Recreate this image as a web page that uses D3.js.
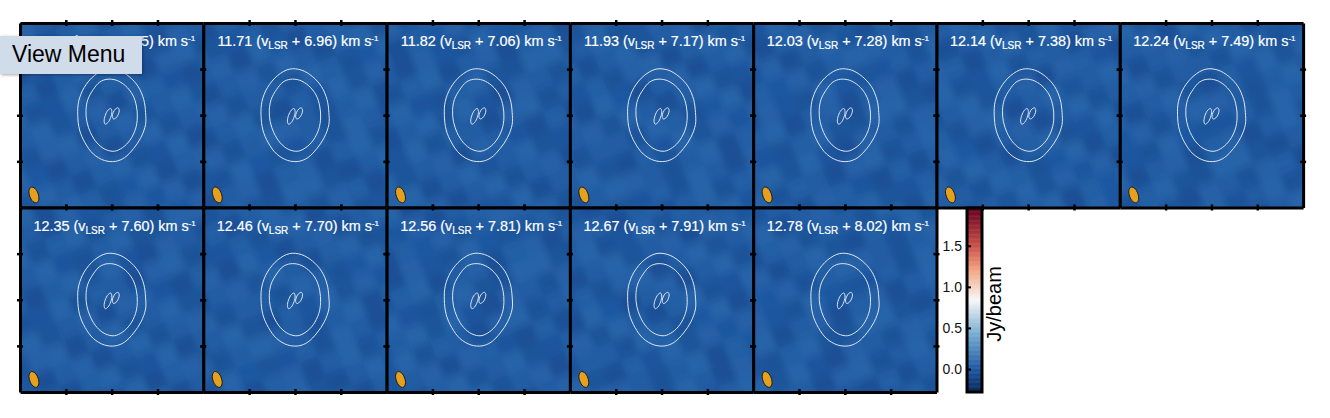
<!DOCTYPE html>
<html>
<head>
<meta charset="utf-8">
<script src="https://cdn.jsdelivr.net/npm/d3@7"></script>
<style>
html, body { margin: 0; padding: 0; background: #fff; }
svg { display: block; font-family: "Liberation Sans", Arial, sans-serif; }
#viewMenu {
	position: absolute; left: 0; top: 36px; width: 142px; height: 38px;
	background: #d1dcea; color: #000; box-shadow: 1px 1px 3px rgba(0,0,0,0.35);
	font: 23px "Liberation Sans", Arial, sans-serif; line-height: 37px; text-indent: 12px;
}
</style>
</head>
<body>
<div id="viewMenu">View Menu</div>
<svg id="chart" width="1330" height="418"></svg>
<script>
// channel velocities and the offset from the systemic velocity (km/s)
var velocities = ["11.61", "11.71", "11.82", "11.93", "12.03", "12.14", "12.24", "12.35", "12.46", "12.56", "12.67", "12.78"];
var offsets = ["6.85", "6.96", "7.06", "7.17", "7.28", "7.38", "7.49", "7.60", "7.70", "7.81", "7.91", "8.02"];

// contours, in panel offset units (-1 to 1)
var outerContour = [[-0.06, 0.50], [0.07, 0.49], [0.19, 0.42], [0.29, 0.31], [0.35, 0.17], [0.37, 0.03], [0.37, -0.10], [0.32, -0.24], [0.24, -0.36], [0.14, -0.46], [0.04, -0.50], [-0.08, -0.49], [-0.20, -0.42], [-0.29, -0.30], [-0.35, -0.16], [-0.37, 0.00], [-0.36, 0.15], [-0.30, 0.30], [-0.19, 0.43]];
var middleContour = [[-0.05, 0.39], [0.05, 0.38], [0.15, 0.32], [0.23, 0.22], [0.27, 0.10], [0.28, -0.03], [0.26, -0.15], [0.20, -0.27], [0.12, -0.35], [0.03, -0.39], [-0.07, -0.37], [-0.16, -0.30], [-0.23, -0.19], [-0.27, -0.07], [-0.28, 0.05], [-0.26, 0.17], [-0.20, 0.28], [-0.13, 0.36]];
var innerLeft = [[-0.01, 0.073], [0.002, 0.041], [-0.01, -0.022], [-0.04, -0.079], [-0.07, -0.097], [-0.082, -0.065], [-0.07, -0.002], [-0.04, 0.055]];
var innerRight = [[0.07, 0.08], [0.083, 0.055], [0.073, 0.01], [0.047, -0.029], [0.02, -0.04], [0.007, -0.015], [0.017, 0.03], [0.043, 0.069]];
var beamShape = [[-0.878, -0.779], [-0.837, -0.793], [-0.803, -0.849], [-0.795, -0.913], [-0.818, -0.949], [-0.859, -0.935], [-0.893, -0.879], [-0.901, -0.815]];

// faint background emission in Jy/beam, a coarse hand read of the texture
var noiseGrid = [
	[-0.02, 0.03, -0.04, 0.05, 0.01, -0.05, 0.04, -0.01, -0.04, 0.05, 0.00, -0.03],
	[0.04, -0.05, 0.02, 0.05, -0.04, 0.03, 0.05, -0.05, 0.02, 0.04, -0.05, 0.03],
	[0.05, -0.03, -0.05, 0.01, 0.05, -0.02, -0.04, 0.03, 0.05, -0.03, -0.04, 0.05],
	[-0.04, 0.04, 0.03, -0.05, 0.02, 0.05, -0.03, 0.05, -0.02, -0.05, 0.04, 0.01],
	[0.01, 0.05, -0.04, -0.02, 0.05, -0.04, 0.03, 0.01, -0.05, 0.04, 0.05, -0.04],
	[-0.05, 0.02, 0.05, -0.03, 0.01, 0.04, -0.05, 0.04, 0.03, -0.02, -0.05, 0.03],
	[0.03, -0.04, 0.04, 0.05, -0.05, 0.02, 0.05, -0.03, 0.01, 0.05, -0.03, -0.02],
	[0.05, 0.00, -0.05, 0.02, 0.04, -0.05, 0.01, 0.05, -0.04, 0.02, 0.04, -0.05],
	[-0.03, 0.05, 0.01, -0.05, 0.03, 0.05, -0.04, -0.02, 0.05, -0.05, 0.01, 0.04],
	[0.02, -0.04, 0.05, 0.03, -0.04, 0.00, 0.05, -0.05, 0.03, 0.04, -0.04, 0.02],
	[-0.05, 0.03, -0.02, 0.05, -0.03, 0.04, -0.01, 0.04, -0.05, 0.01, 0.05, -0.03],
	[0.04, 0.01, -0.04, 0.02, 0.05, -0.05, 0.03, 0.00, 0.04, -0.04, 0.02, 0.05]
];

var colorbarTicks = [0, 0.5, 1, 1.5];
var colorbarDomain = [-0.28, 1.96];
var colorStopValues = [-0.28, 0, 0.42, 0.84, 1.2, 1.5, 1.96];
var colorStops = ["#07275a", "#1e59a2", "#76abd2", "#f7f7f7", "#f4a582", "#c9504a", "#67001f"];
var panelTicks = [-0.5, 0, 0.5];

// layout of the grid of panels
var svg = d3.select("#chart");
var columns = 7;
var left = 20, top0 = 23, panelSize = 183.3, panelHeight = 184.5;

var x = d3.scaleLinear().domain([-1, 1]).range([0, panelSize]);
var y = d3.scaleLinear().domain([-1, 1]).range([panelHeight, 0]);

// same colour ramp for the channel maps and the colour bar
var color = d3.scaleLinear().domain(colorStopValues).range(colorStops);

var noiseX = d3.scaleBand().domain(d3.range(12)).range([-30, panelSize + 30]);
var noiseY = d3.scaleBand().domain(d3.range(12)).range([-30, panelHeight + 30]);

var line = d3.line()
	.x(function(d) { return x(d[0]); })
	.y(function(d) { return y(d[1]); })
	.curve(d3.curveCatmullRomClosed);

var defs = svg.append("defs");
defs.append("filter").attr("id", "smear")
	.attr("x", "-10%").attr("y", "-10%").attr("width", "120%").attr("height", "120%")
	.append("feGaussianBlur").attr("stdDeviation", "3 5");
defs.append("clipPath").attr("id", "panelClip")
	.append("rect").attr("width", panelSize).attr("height", panelHeight);

var panels = svg.selectAll(".panel")
	.data(velocities)
	.enter()
	.append("g")
	.attr("class", "panel")
	.attr("transform", function(d, i) {
		return "translate(" + (left + (i % columns) * panelSize) + "," + (top0 + Math.floor(i / columns) * panelHeight) + ")";
	});

panels.each(function(d, i) {
	var panel = d3.select(this);
	var clipped = panel.append("g").attr("clip-path", "url(#panelClip)");

	clipped.append("rect")
		.attr("width", panelSize)
		.attr("height", panelHeight)
		.attr("fill", color(0));

	// shift the noise tile per channel so the panels don't look identical, tilted like the beam
	var noise = clipped.append("g")
		.attr("filter", "url(#smear)")
		.attr("transform", "rotate(-22 " + panelSize / 2 + " " + panelHeight / 2 + ")");
	noiseGrid.forEach(function(row, r) {
		row.forEach(function(value, c) {
			noise.append("rect")
				.attr("x", noiseX((c + i * 5) % 12))
				.attr("y", noiseY((r + i * 7) % 12))
				.attr("width", noiseX.bandwidth() + 1)
				.attr("height", noiseY.bandwidth() + 1)
				.attr("fill", color(value));
		});
	});

	[outerContour, middleContour, innerLeft, innerRight].forEach(function(contour) {
		clipped.append("path")
			.attr("d", line(contour))
			.attr("fill", "none")
			.attr("stroke", "#dfe8f2")
			.attr("stroke-width", 1);
	});

	clipped.append("path")
		.attr("d", line(beamShape))
		.attr("fill", "#e5a01e")
		.attr("stroke", "#1a1a1a")
		.attr("stroke-width", 1);

	// channel label
	var label = panel.append("text")
		.attr("x", panelSize / 2 + 3)
		.attr("y", 23)
		.attr("text-anchor", "middle")
		.attr("fill", "#fff")
		.attr("stroke", "#fff")
		.attr("stroke-width", 0.2)
		.attr("font-size", 14.4);
	label.append("tspan").text(d + " (v");
	label.append("tspan").attr("font-size", 10).attr("dy", 3).text("LSR");
	label.append("tspan").attr("dy", -3).text(" + " + offsets[i] + ") km s");
	label.append("tspan").attr("font-size", 8).attr("dy", -5).text("-1");

	// frame and ticks on all four sides
	var axes = [
		{axis: d3.axisTop(x), tr: "translate(0,0)"},
		{axis: d3.axisBottom(x), tr: "translate(0," + panelHeight + ")"},
		{axis: d3.axisLeft(y), tr: "translate(0,0)"},
		{axis: d3.axisRight(y), tr: "translate(" + panelSize + ",0)"}
	];
	axes.forEach(function(a) {
		var g = panel.append("g")
			.attr("transform", a.tr)
			.call(a.axis.tickValues(panelTicks).tickSize(3).tickSizeOuter(0).tickFormat(""));
		g.select(".domain").attr("stroke", "#000").attr("stroke-width", 3);
		g.selectAll(".tick line").attr("stroke", "#000").attr("stroke-width", 2.5)
			.each(function() {
				// ticks cross the frame, so mirror each one to the inside too
				var l = d3.select(this);
				if (l.attr("x2")) l.attr("x1", -l.attr("x2"));
				if (l.attr("y2")) l.attr("y1", -l.attr("y2"));
			});
	});
});

// colour bar
var barLeft = 967, barWidth = 15, barTop = 208, barBottom = 392;
var barY = d3.scaleLinear().domain(colorbarDomain).range([barBottom, barTop]);
var barValues = d3.range(colorbarDomain[0], colorbarDomain[1], 0.01);

var bar = svg.append("g");
bar.selectAll("rect")
	.data(barValues)
	.enter()
	.append("rect")
	.attr("x", barLeft)
	.attr("y", function(d) { return barY(d + 0.01); })
	.attr("width", barWidth)
	.attr("height", function(d) { return barY(d) - barY(d + 0.01) + 0.5; })
	.attr("fill", function(d) { return color(d); });

bar.append("rect")
	.attr("x", barLeft).attr("y", barTop)
	.attr("width", barWidth).attr("height", barBottom - barTop)
	.attr("fill", "none").attr("stroke", "#000").attr("stroke-width", 3);

var barAxis = bar.append("g")
	.attr("transform", "translate(" + barLeft + ",0)")
	.call(d3.axisLeft(barY).tickValues(colorbarTicks).tickSize(0).tickPadding(5).tickFormat(d3.format(".1f")));
barAxis.select(".domain").remove();
barAxis.selectAll("text").attr("font-size", 14).attr("font-family", "Liberation Sans").attr("fill", "#111");
barAxis.selectAll(".tick").append("line").attr("x1", 0).attr("x2", 4).attr("stroke", "#000").attr("stroke-width", 2);

svg.append("text")
	.attr("transform", "translate(1001,304) rotate(-90)")
	.attr("text-anchor", "middle")
	.attr("font-size", 20)
	.attr("fill", "#000")
	.text("Jy/beam");
</script>
</body>
</html>
